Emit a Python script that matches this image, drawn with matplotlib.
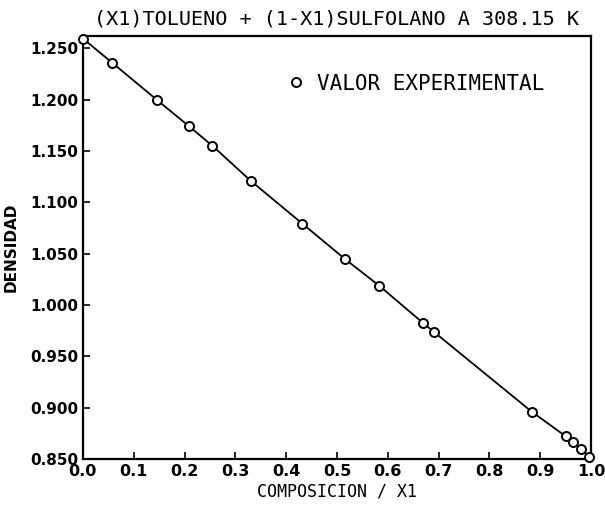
import numpy as np
import matplotlib.pyplot as plt

# composition x1 (toluene) and measured density
x1 = [0.0, 0.058, 0.145, 0.209, 0.255, 0.330, 0.432, 0.515, 0.583,
      0.669, 0.690, 0.883, 0.950, 0.965, 0.980, 0.996]
densidad = [1.2595, 1.2358, 1.2000, 1.1740, 1.1550, 1.1210, 1.0791, 1.0450,
            1.0187, 0.9825, 0.9740, 0.8960, 0.8720, 0.8660, 0.8600, 0.8520]

x_ticks = np.round(np.arange(0.0, 1.01, 0.1), 1)
y_ticks = np.round(np.arange(0.85, 1.251, 0.05), 3)

title = '(X1)TOLUENO + (1-X1)SULFOLANO A 308.15 K'


def plot_density(x_values, y_values):
    fig = plt.figure(figsize=(6.05, 5.07), dpi=100)
    ax = fig.add_axes([0.137, 0.095, 0.840, 0.834])

    ax.plot(x_values, y_values, color='black', linewidth=1.3, zorder=2)
    ax.plot(x_values, y_values, linestyle='none', marker='o', markersize=6.5,
            markerfacecolor='white', markeredgecolor='black',
            markeredgewidth=1.4, zorder=3, label='VALOR EXPERIMENTAL',
            clip_on=False)

    ax.set_xlim(0.0, 1.0)
    ax.set_ylim(0.85, 1.262)
    ax.set_xticks(x_ticks, ['%.1f' % v for v in x_ticks])
    ax.set_yticks(y_ticks, ['%.3f' % v for v in y_ticks])
    ax.tick_params(direction='in', length=5, width=1.2, colors='black')
    ax.tick_params(axis='x', pad=4)
    for lab in ax.get_xticklabels():
        lab.set_fontweight('bold')
        lab.set_fontsize(11.5)
    for lab in ax.get_yticklabels():
        lab.set_fontweight('bold')
        lab.set_fontsize(11)
    for s in ax.spines.values():
        s.set_linewidth(1.6)

    ax.set_title(title, family='DejaVu Sans Mono', fontsize=14.5, pad=8)
    ax.set_xlabel('COMPOSICION / X1', family='DejaVu Sans Mono', fontsize=12,
                  labelpad=2)
    ax.set_ylabel('DENSIDAD', fontweight='bold', fontsize=11, labelpad=8)

    ax.legend(loc='upper right', bbox_to_anchor=(0.945, 0.955),
              frameon=False, handletextpad=0.5, handlelength=1.0,
              prop={'family': 'DejaVu Sans Mono', 'size': 15})
    fig.savefig('out.png', dpi=100)


if __name__ == '__main__':
    plot_density(x1, densidad)
